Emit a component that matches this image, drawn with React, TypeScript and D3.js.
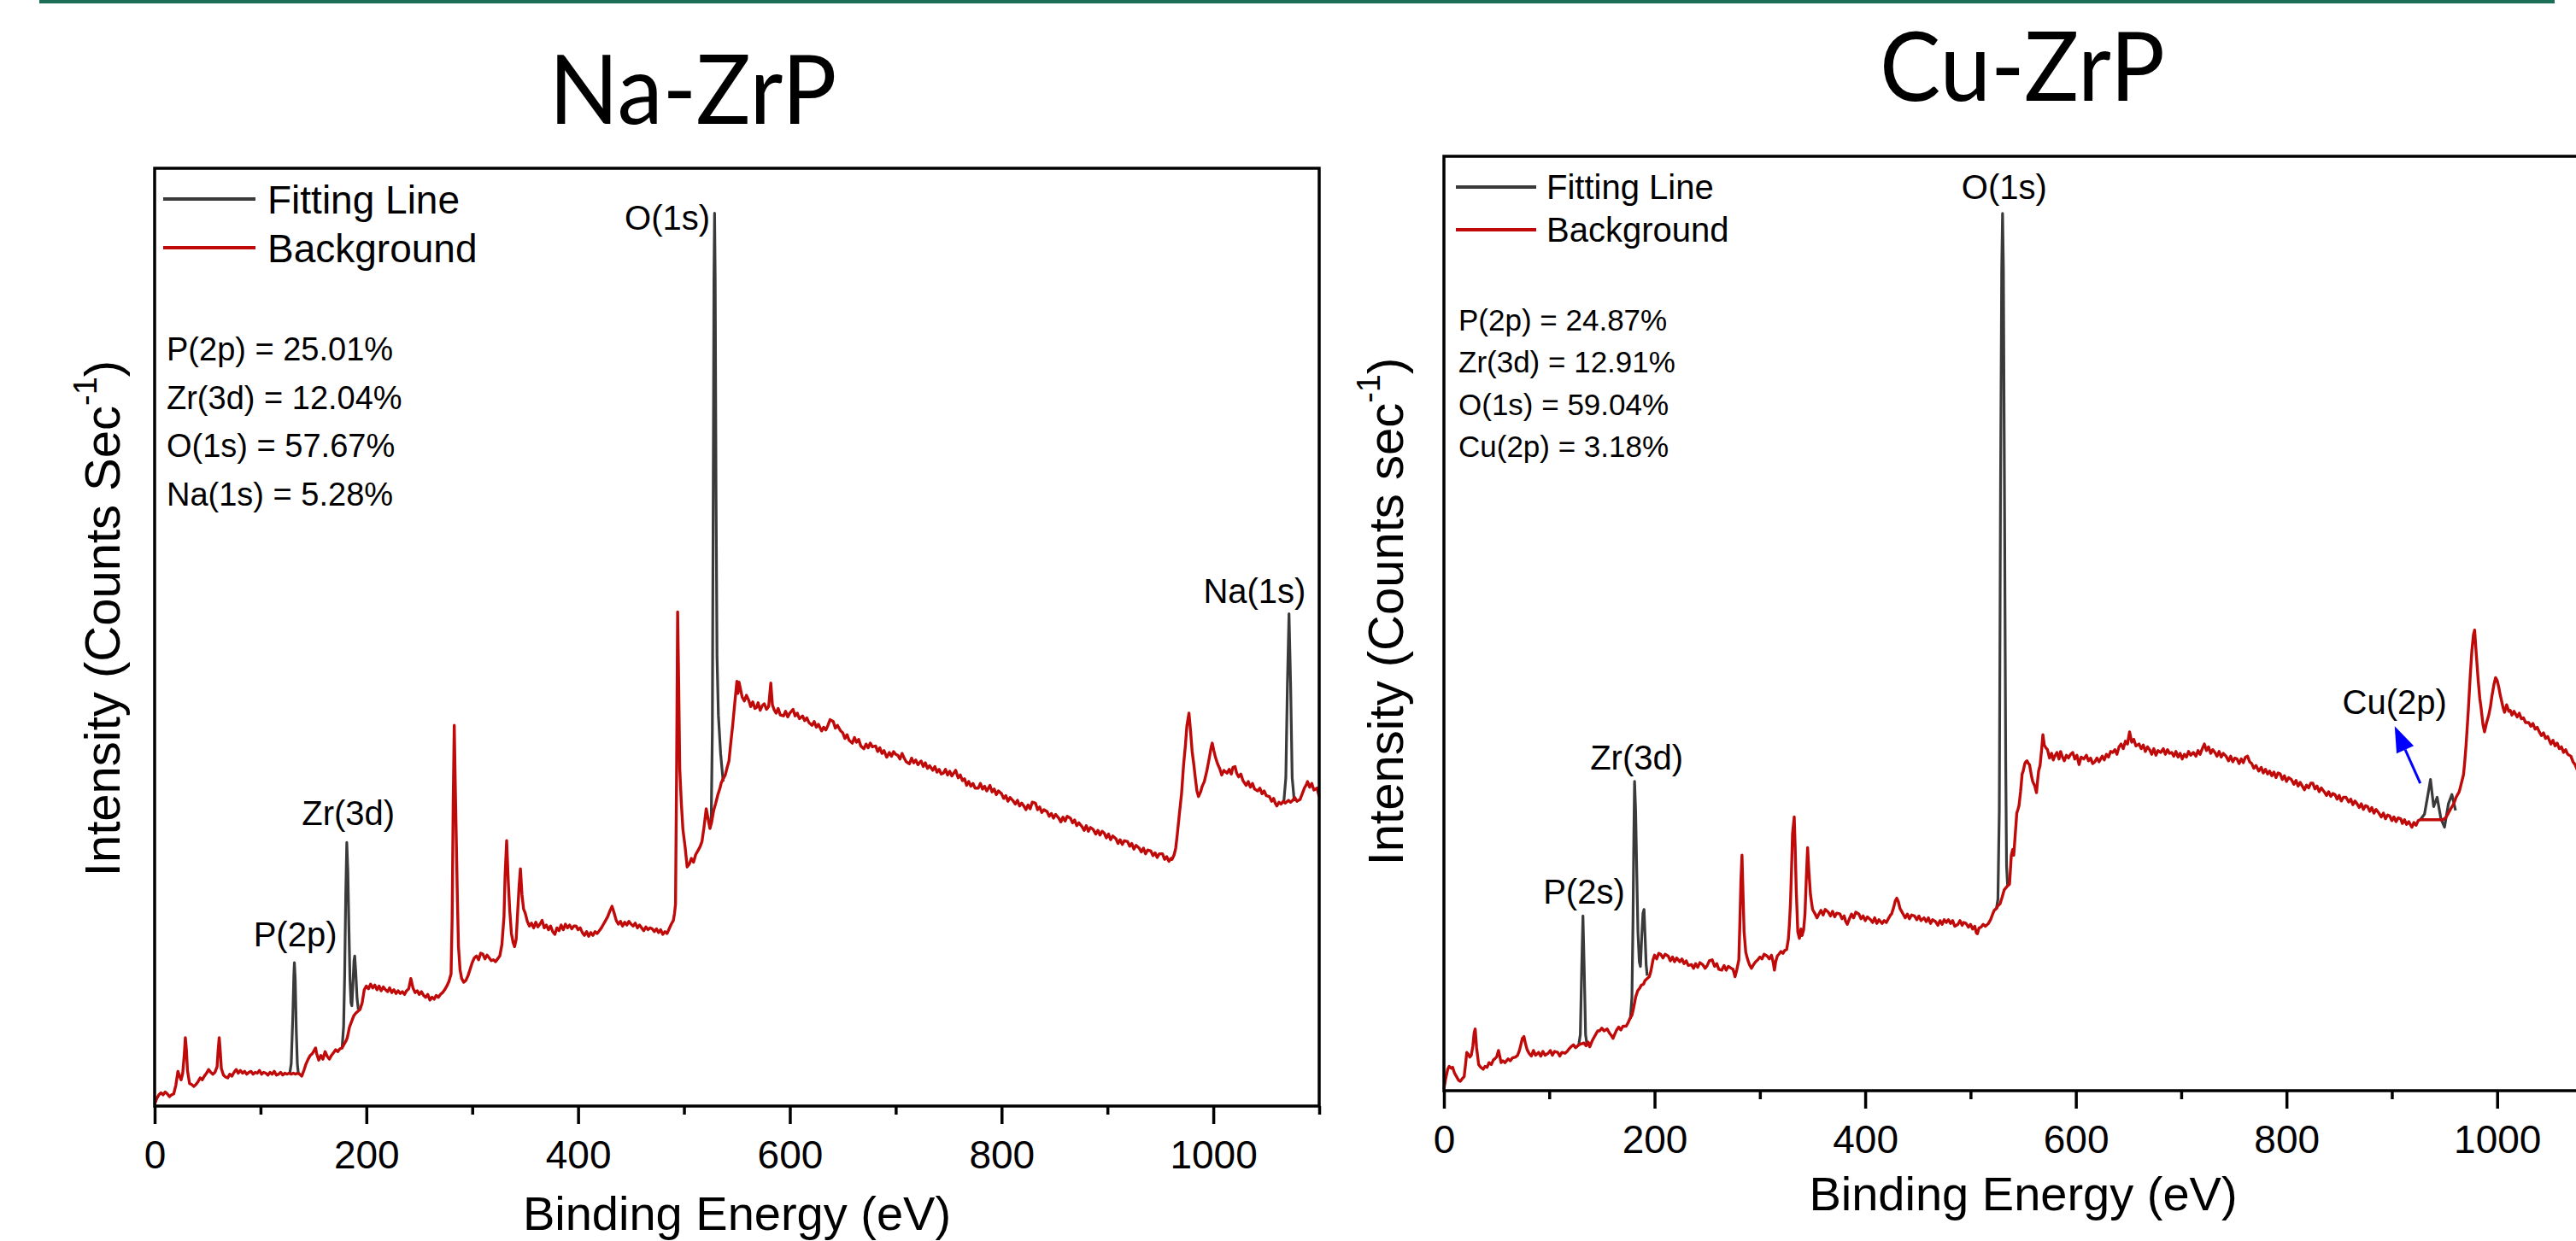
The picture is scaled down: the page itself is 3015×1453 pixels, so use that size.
import React, { useEffect, useRef } from 'react';
import * as d3 from 'd3';

type Pt = [number, number];

// x ticks (eV)
const xMajorTicks = [0, 200, 400, 600, 800, 1000];
const xMinorTicks = [100, 300, 500, 700, 900, 1100];

// ---- Na-ZrP survey: background (red), [eV, intensity %] ----
const naBackground: Pt[] = [
  [0,0.2],[2,0.8],[4,1.2],[6,1.4],[8,1.2],[10,1.5],[12,1.3],[14,1.0],[16,1.2],[18,1.3],[20,2.2],[22,3.7],[23.5,3.2],[25,2.8],[26.5,3.5],[28,5.5],[29,7.3],[30,6.0],[31,3.8],[33,2.4],[35,2.3],[37,2.1],[39,2.3],[41,2.6],[43,3.0],[45,2.8],[47,3.2],[49,3.5],[51,3.9],[53,3.6],[55,3.4],[57,3.6],[59,4.2],[60,6.0],[61,7.3],[62,5.8],[63,4.0],[65,3.3],[67,3.1],[69,3.0],[71,3.4],[73,3.2],[75,3.6],[77,3.9],[79,3.5],[81,3.8],[83,3.5],[85,3.7],[87,3.4],[89,3.6],[91,3.7],[93,3.4],[95,3.6],[97,3.5],[99,3.8],[101,3.4],[103,3.6],[105,3.5],[107,3.3],[109,3.6],[111,3.4],[113,3.7],[115,3.3],[117,3.4],[119,3.6],[121,3.3],[123,3.5],[125,3.4],[127,3.5],[129,3.4],[131,3.5],[133,3.4],[135,3.5],[137,3.4],[139,3.2],[141,3.8],[143,4.5],[145,5.0],[147,5.4],[149,5.6],[151,6.0],[152,6.2],[153,5.6],[155,4.9],[157,5.4],[159,5.0],[161,5.8],[163,5.3],[165,5.0],[167,5.4],[169,5.7],[171,6.0],[173,5.8],[175,6.1],[177,6.2],[179,6.6],[181,7.0],[182,7.3],[184,8.4],[186,9.0],[188,9.6],[190,9.9],[192,10.1],[194,10.3],[196,11.0],[198,12.4],[200,12.8],[202,12.5],[204,13.0],[206,12.6],[208,12.9],[210,12.4],[212,12.8],[214,12.3],[216,12.7],[218,12.4],[220,12.2],[222,12.6],[224,12.1],[226,12.4],[228,12.0],[230,12.3],[232,12.0],[234,12.2],[236,11.9],[238,12.3],[240,12.5],[242,13.6],[244,12.6],[246,12.1],[248,12.3],[250,11.9],[252,12.2],[254,11.8],[256,11.6],[258,11.9],[260,11.3],[262,11.6],[264,11.4],[266,11.8],[268,11.6],[270,11.9],[272,12.1],[274,12.4],[276,12.8],[278,13.3],[280,14.1],[281,20],[282,32],[283,40.6],[284,34],[285,28],[286,22],[287,17],[288.5,14.5],[290,13.6],[292,13.2],[294,13.4],[296,13.9],[298,14.6],[300,15.3],[302,15.8],[304,16.0],[306,15.6],[308,16.3],[310,16.2],[312,15.7],[314,16.1],[316,15.8],[318,15.5],[320,15.6],[322,15.4],[324,15.7],[326,16.0],[328,17.2],[330,20.2],[331,24.5],[332.5,28.3],[334,24],[335.4,20.9],[337,18.4],[338.5,17.5],[340,17.0],[341.5,17.8],[343,20.9],[344.3,23.5],[345.5,25.3],[347,22.5],[348.5,21.0],[350,20.6],[352,19.7],[354,19.2],[356,19.5],[358,19.0],[360,19.6],[362,19.1],[364,19.4],[366,19.8],[368,19.0],[370,19.3],[372,18.8],[374,19.2],[376,18.6],[378,18.3],[380,19.0],[382,18.7],[384,19.3],[386,18.8],[388,19.4],[390,19.0],[392,19.3],[394,18.9],[396,19.2],[398,19.2],[400,18.8],[402,19.0],[404,18.5],[406,18.2],[408,18.6],[410,18.1],[412,18.5],[414,18.2],[416,18.6],[418,18.4],[420,18.7],[422,19.0],[424,19.4],[426,19.8],[428,20.2],[430,20.8],[432,21.3],[434,20.6],[436,19.8],[438,19.4],[440,19.7],[442,19.2],[444,19.6],[446,19.3],[448,19.7],[450,19.4],[452,19.2],[454,19.5],[456,19.0],[458,19.3],[460,19.0],[462,18.7],[464,19.1],[466,18.8],[468,19.0],[470,18.9],[472,18.6],[474,18.9],[476,18.5],[478,18.8],[480,18.3],[482,18.6],[484,18.4],[486,18.9],[488,19.4],[490,19.8],[491,20.5],[492,21.5],[493,35],[494,52.7],[495,45],[496,36],[497.5,32.3],[499,29.5],[501,27.7],[503,25.5],[505,25.8],[507,26.4],[509,26.0],[511,26.8],[513,27.2],[515,27.6],[517,28.2],[519,29.8],[521,31.7],[523,30.5],[524.5,29.6],[526,30.2],[528,31.5],[530,32.3],[532,33.2],[534,33.9],[535,34.4],[537,34.9],[539,35.3],[541,36.2],[542.5,36.8],[544,38.5],[546,40.6],[548,43.0],[550,45.3],[551,44.0],[552,45.2],[553.5,44.4],[555,43.6],[557,43.2],[559,43.8],[561.4,43.2],[563,42.6],[565,43.1],[567,42.4],[568.6,42.5],[570,43.0],[572,42.2],[574,42.7],[575.8,42.9],[578,42.3],[580,42.6],[582,45.1],[583.5,42.8],[585,42.3],[587,41.9],[589,42.4],[591,41.7],[594,41.6],[596,42.1],[598,41.5],[600,41.9],[603,42.3],[605,41.6],[607,41.9],[609,41.3],[612,41.6],[614,41.1],[616,41.4],[618,40.9],[621,40.6],[623,41.0],[625,40.4],[627,40.7],[630,40.0],[632,40.4],[634,40.1],[636,40.6],[638,41.2],[641,41.0],[643,40.3],[645,40.6],[648,40.0],[650,39.8],[652,39.2],[654,39.6],[656,39.0],[659,38.7],[661,39.3],[663,38.8],[665,39.1],[667,38.4],[670,38.1],[672,38.6],[674,38.2],[676,38.7],[678,38.3],[681,38.4],[683,37.8],[685,38.2],[687,37.6],[689,37.9],[691.5,37.2],[694,37.7],[696,37.3],[698,37.8],[700,37.5],[702,37.4],[704,37.0],[706,37.6],[708,37.1],[710,36.7],[713,36.5],[715,37.1],[717,36.6],[719,36.9],[721,36.4],[724,36.8],[726,36.2],[728,36.6],[730,36.0],[732,36.3],[735,35.8],[737,36.2],[739,35.6],[741,35.9],[743,35.4],[745,35.5],[747,35.9],[749,35.3],[751,35.7],[753,35.2],[756.6,35.8],[759,35.0],[761,35.3],[763,34.7],[765,34.9],[767,34.2],[769,34.6],[771,34.1],[773,34.4],[775,33.9],[778,33.9],[780,34.4],[782,33.8],[784,34.1],[786,33.6],[789,34.2],[791,33.5],[793,33.8],[795,33.2],[797,33.6],[800,33.3],[802,32.8],[804,33.1],[806,32.5],[808,32.9],[810.5,32.6],[813,32.2],[815,32.6],[817,32.0],[819,32.3],[821,32.0],[823,31.6],[825,32.1],[827,31.7],[829,32.4],[832,32.3],[834,31.6],[836,31.9],[838,31.3],[840,31.6],[843,31.4],[845,30.9],[847,31.2],[849,30.7],[851,31.1],[854,30.7],[856,30.3],[858,30.8],[860,30.4],[862,30.9],[865,30.7],[867,30.2],[869,30.5],[871,29.9],[873,30.2],[876,29.8],[878,29.4],[880,29.9],[882,29.3],[884,29.7],[886.5,29.5],[889,29.0],[891,29.4],[893,28.9],[895,29.3],[897,29.1],[899,28.6],[901,29.0],[903,28.4],[905,28.8],[908,28.5],[910,28.0],[912,28.4],[914,27.9],[916,28.3],[919,28.2],[921,27.7],[923,28.0],[925,27.4],[927,27.8],[930,27.5],[932,27.1],[934,27.5],[936,26.9],[938,27.3],[941,27.2],[943,26.7],[945,27.0],[947,26.5],[949,26.9],[952,26.9],[954,26.3],[956,26.6],[958,26.1],[960,26.4],[961,26.3],[963,26.8],[964.5,27.5],[966,29],[968,31.2],[970,33.3],[972,36.5],[973.6,38.4],[975,40.5],[977,41.9],[978.5,40],[980,37.8],[981.5,36.5],[983,35.0],[984.5,33.6],[986,33.0],[988,33.5],[989.5,34.1],[991.5,34.6],[994,35.8],[996,37.0],[998,38.3],[999,38.7],[1000.5,37.9],[1002,37.2],[1004,36.5],[1006,36.0],[1008,35.3],[1010,35.8],[1013,35.5],[1015,35.9],[1017,35.4],[1018.5,36.1],[1020.5,36.2],[1022,35.5],[1024,35.1],[1026,35.4],[1028,34.7],[1031,34.2],[1033,34.6],[1035,34.0],[1037,34.4],[1039,33.8],[1042,33.6],[1044,33.9],[1046,33.3],[1048,33.6],[1050,33.1],[1053,33.0],[1055,32.5],[1057,32.8],[1058.5,32.3],[1060,32.0],[1062,32.4],[1064,32.2],[1066,32.5],[1068,32.3],[1071,32.6],[1073,32.4],[1075,32.6],[1077,32.9],[1079,32.5],[1082,32.7],[1084,33.3],[1086,33.9],[1088,34.3],[1089,34.6],[1091,34.0],[1093,34.4],[1095,33.7],[1098,33.9],[1100,33.0],
];

// Na-ZrP fitted peaks (black)
const naP2p: Pt[] = [[127.5,3.4],[129,4.5],[130.5,9.5],[131.5,14],[132,15.3],[132.8,13.5],[133.8,8],[134.8,4.5],[135.8,3.4]];
const naZr3d: Pt[] = [[177,6.1],[178.5,8.5],[179.5,14],[180.5,22.5],[181.5,28.1],[182.5,25],[183.5,19],[184.5,13.5],[185.5,11],[186.3,10.7],[187.3,13],[188.3,15.5],[189,16.0],[190,14.2],[191.2,11.5],[192.4,10.3]];
const naO1s: Pt[] = [[524.5,29.6],[525.8,31],[526.8,40],[527.6,65],[528.3,88],[528.9,95.2],[529.5,88],[530.3,65],[531.2,48],[532.5,41.7],[534.6,37.6],[537,34.6]];
const naNa1s: Pt[] = [[1066.5,32.3],[1068.5,35],[1070,45],[1071.5,52.5],[1073,45],[1074.5,35],[1076.5,32.5]];

const naPeakLabels = [
  { text: 'P(2p)', ev: 132.8, at: 17.0, anchor: 'middle' },
  { text: 'Zr(3d)', ev: 183, at: 30.0, anchor: 'middle' },
  { text: 'O(1s)', ev: 524.6, at: 93.4, anchor: 'end' },
  { text: 'Na(1s)', ev: 1039, at: 53.6, anchor: 'middle' },
];
const naComposition = ['P(2p) = 25.01%', 'Zr(3d) = 12.04%', 'O(1s) = 57.67%', 'Na(1s) = 5.28%'];

// ---- Cu-ZrP survey ----
const cuBackground: Pt[] = [
  [0,0.2],[1.5,1.2],[3.6,2.3],[5,2.6],[7,2.4],[8.3,2.5],[10,1.9],[12,1.5],[14,1.1],[15.6,1.0],[17.5,1.3],[19.2,1.5],[20.5,2.8],[21.7,4.1],[23,3.9],[24.6,3.6],[26,3.8],[27.5,4.8],[28.7,6.2],[29.7,6.6],[31,4.6],[33,2.8],[35,2.5],[37.3,2.3],[39,2.6],[41,2.5],[42.8,3.0],[45,2.8],[47,3.3],[48.2,3.4],[50,3.6],[51.8,4.3],[53,3.7],[54.3,3.0],[56,3.2],[58,3.0],[60.9,3.4],[63,3.2],[65,3.5],[68.1,3.6],[70,3.8],[71.7,4.3],[73,4.9],[74.5,5.6],[76,5.8],[77.5,5.0],[79,4.4],[80.8,4.0],[83,3.7],[85,4.3],[87,3.8],[89.9,4.1],[92,3.7],[94,4.2],[96,3.8],[98.9,4.0],[101,4.3],[103,3.8],[105,4.2],[108,4.1],[110,3.7],[112,4.1],[115,4.0],[117,4.2],[119,4.5],[120.6,4.7],[123,4.9],[125,4.6],[128,4.9],[130,5.0],[133,5.1],[135,4.8],[137,5.2],[138.5,4.7],[140.6,5.3],[142,5.6],[144,6.0],[146,6.4],[147.8,6.4],[150,6.7],[152,6.4],[155,6.6],[157,6.2],[159,5.9],[160.5,5.6],[162,6.0],[164,6.5],[166,6.8],[168,6.5],[170,6.9],[173,6.9],[175,7.3],[176.5,7.7],[178.6,8.1],[180,8.8],[182,10.0],[184,10.7],[186,11.0],[187.5,11.3],[189.5,11.4],[191,11.8],[193,12.0],[195,12.2],[196.5,12.8],[198.5,14.0],[200,14.5],[202,14.1],[204,14.7],[205.8,14.6],[208,14.2],[210,14.6],[213,14.4],[215,13.9],[217,14.3],[219,13.8],[221,14.2],[224,13.8],[226,14.1],[228,13.6],[230,13.9],[232,13.4],[235,13.5],[237,13.1],[239,13.6],[241,13.2],[243,13.7],[245.6,13.5],[248,13.1],[250,13.4],[252,13.9],[254.7,14.0],[257,13.3],[259,13.6],[261,13.0],[263.8,12.9],[266,13.4],[268,12.9],[270,13.3],[272.8,13.1],[274.5,13.0],[276.4,12.2],[278,12.9],[280,14.0],[281,18],[282,22.5],[283,25.2],[284,21],[285,17],[286.6,14.8],[288.5,14.0],[290,13.5],[292,13.1],[294,13.5],[296,13.8],[298,14.0],[300,14.3],[302,14.1],[304,14.6],[307,14.4],[309,14.1],[311,14.5],[312.5,13.8],[313.8,12.9],[315,13.8],[316.5,14.4],[318,14.6],[320,14.9],[322,14.7],[323.5,15.0],[325.4,15.1],[327,16.2],[328,17.8],[329,20.0],[330,23.5],[331,27.5],[332.6,29.3],[333.5,26],[334.5,21.5],[336,17.0],[337.5,16.3],[339,17.3],[340,16.6],[341.5,17.2],[342.8,18.9],[344,22.5],[345.3,26.0],[346.5,23.5],[348,21],[350,19.4],[352,19.0],[354.3,18.5],[356,18.9],[358,19.3],[360,18.8],[362,19.4],[365,19.1],[367,18.7],[369,19.2],[371,18.6],[373,19.0],[376,18.9],[378,18.4],[380,18.7],[381.5,18.1],[383,17.8],[385,18.4],[387,18.9],[389,18.5],[391,19.1],[394,18.9],[396,18.4],[398,18.7],[400,18.2],[402,18.6],[405,18.3],[407,18.0],[409,18.5],[411,17.9],[413,18.3],[416,17.9],[418,18.2],[420,18.0],[422,18.4],[424,18.8],[425,18.9],[427,19.6],[428.5,20.3],[430,20.6],[431.5,20.2],[433,19.5],[434.5,19.2],[436,18.9],[438,18.5],[440,18.9],[442,18.4],[444,18.8],[446.7,18.7],[449,18.3],[451,18.7],[453,18.2],[455.8,18.5],[458,18.1],[460,18.5],[462,17.9],[464,18.3],[466.7,18.1],[469,17.7],[471,18.2],[473,17.8],[475,18.3],[477,18.0],[479,18.3],[481,17.9],[483,18.2],[485,17.6],[488,17.8],[490,18.2],[492,17.7],[493.5,18.0],[495.7,17.9],[498,17.5],[500,17.8],[502,17.3],[504,17.6],[505.5,16.9],[506.5,16.8],[508,17.4],[510,17.5],[512,17.8],[514,17.6],[517,17.9],[519,18.3],[521,18.9],[522.5,19.3],[524.6,19.5],[526,19.8],[528,20.0],[530,20.7],[532,21.5],[535,21.9],[537,22.1],[538.7,25.2],[540,25.8],[541,25.2],[542.5,27.5],[543.9,29.7],[545,30.1],[546,30.5],[547.5,32.0],[549,33.9],[550,34.2],[551.5,35.0],[552.5,35.2],[553.6,35.3],[555,35.0],[556,34.9],[558,33.6],[559,33.1],[561,32.6],[562.6,31.9],[563.5,33.0],[564.6,34.2],[566,34.8],[567.5,36.5],[568.7,38.1],[570,37.0],[571.5,36.7],[573,36.5],[575,35.6],[577,36.1],[578.5,35.4],[580,35.8],[582,36.2],[584,35.5],[585.5,36.3],[587,35.8],[589,35.3],[591,35.9],[593,35.6],[595,36.0],[597,36.2],[599,35.5],[601,35.9],[603,34.9],[605,35.7],[607.6,35.5],[610,35.9],[612,35.3],[614,35.6],[616,35.0],[618,35.2],[620,35.6],[622,35.2],[625,35.8],[627,35.4],[629,36.0],[631,35.7],[633,36.3],[635,36.2],[637,36.5],[639,36.0],[641,36.8],[642.9,37.1],[645,36.6],[647,37.4],[649,37.1],[651,38.4],[653,37.3],[655,37.6],[657,36.9],[660,37.1],[662,36.6],[664,37.0],[666,36.3],[668,36.8],[670,36.5],[672,36.0],[674,36.6],[676,35.9],[678,36.4],[680.6,36.2],[683,36.6],[685,36.0],[687,36.5],[689,36.1],[691,36.2],[693,35.8],[695,36.3],[697,35.7],[699,36.1],[701,35.5],[703,36.0],[705,35.7],[707,36.3],[709,35.9],[711.6,36.2],[714,35.8],[716,36.4],[718,36.0],[720,36.6],[722,37.1],[724,36.4],[726,36.8],[728,36.1],[730,36.5],[732,36.2],[734,35.8],[736,36.3],[738,35.7],[740,36.1],[742.6,35.8],[745,35.3],[747,35.8],[749,35.2],[751,35.6],[753,35.5],[755,35.0],[757,35.5],[759,35.1],[761,35.7],[763,35.8],[765,35.2],[767,35.0],[769,34.5],[771,34.8],[773.6,34.2],[776,34.6],[778,34.0],[780,34.4],[782,33.9],[784,34.2],[786,33.7],[788,34.1],[790,33.5],[792,34.0],[794,33.9],[796,33.3],[798,33.7],[800,33.1],[802,33.5],[804.6,33.3],[807,32.8],[809,33.2],[811,32.6],[813,33.0],[815,32.6],[817,32.2],[819,32.7],[821,32.4],[823,32.9],[825,32.9],[827,32.3],[829,32.6],[831,32.0],[833,32.4],[835.7,32.0],[838,31.6],[840,32.0],[842,31.5],[844,31.8],[846,31.7],[848,31.2],[850,31.6],[852,31.0],[854,31.4],[856.5,31.4],[859,30.9],[861,31.2],[863,30.6],[865,31.0],[867,30.7],[869,30.3],[871,30.7],[873,30.1],[875,30.5],[877,30.4],[879,29.9],[881,30.3],[883,29.7],[885,30.1],[887.7,29.7],[890,29.3],[892,29.7],[894,29.1],[896,29.5],[898,29.4],[900,28.9],[902,29.3],[904,28.8],[906,29.2],[908.4,29.1],[910,28.6],[912,29.0],[914,28.5],[916,28.8],[919,28.2],[921,28.7],[923,28.4],[925,28.9],[927,29.0],[930,29.0],[935,29.0],[940,29.0],[945,29.0],[948.5,29.0],[951,29.2],[953.7,29.7],[956,30.2],[958.8,30.7],[961,31.4],[964,32.0],[966,32.9],[968,33.8],[969,34.9],[970.5,37.0],[972.6,40.7],[974.5,44.5],[976,47.1],[977.5,48.8],[978.6,49.3],[980,47.0],[982,43.9],[983.5,42.0],[984.7,41.0],[986.5,39.2],[988,38.4],[990,39.4],[992,40.2],[993.5,41.0],[995,42.2],[997,43.5],[998.5,44.2],[1000,43.9],[1001.5,43.2],[1003,42.3],[1005.6,41.0],[1007,40.5],[1009,41.3],[1011,40.6],[1012.5,40.7],[1014,40.2],[1016,40.6],[1019,40.0],[1021,40.4],[1023,39.8],[1025,39.9],[1027,39.4],[1030,39.4],[1032,39.0],[1034,39.3],[1036,38.7],[1038,38.9],[1040,38.4],[1042,38.0],[1044,38.3],[1046,37.7],[1048,37.9],[1051,37.1],[1053,37.5],[1055,36.9],[1057,37.2],[1059,36.6],[1061,36.8],[1063,36.2],[1065,36.5],[1067,36.0],[1070,35.8],[1072,35.2],[1074,34.9],[1075,34.6],[1077,34.1],[1078,34.2],[1080,33.8],[1082,34.0],[1085,33.6],[1088,33.9],[1091,33.4],[1094,33.7],[1097,33.2],[1100,33.5],
];

const cuP2s: Pt[] = [[128,4.9],[129.5,6],[130.8,13],[132,18.7],[133.2,13],[134.5,6],[135.8,4.9]];
const cuZr3d: Pt[] = [[177,7.7],[178.5,10],[179.5,18],[180.3,27],[181,33.1],[182,30],[183,24],[184.2,17],[185.5,13.8],[186.6,13.3],[187.8,16.5],[189,19.0],[190,19.4],[191,16.5],[192,13.5],[193,12.3]];
const cuO1s: Pt[] = [[524.6,19.5],[526,20.5],[527.3,30],[528.5,65],[529.6,88],[530.4,93.9],[531.2,88],[532.3,62],[533.4,35],[534.2,24],[535.2,21.9]];
const cuCu2p: Pt[] = [[927,29.0],[931,29.6],[934,31.5],[936.7,33.3],[939.7,30.4],[943,31.4],[946.6,29.1],[950,28.2],[953.7,30.7],[957,31.7],[960.5,30.0]];

const cuPeakLabels = [
  { text: 'P(2s)', ev: 133, at: 20.0, anchor: 'middle' },
  { text: 'Zr(3d)', ev: 183, at: 34.4, anchor: 'middle' },
  { text: 'O(1s)', ev: 532, at: 95.4, anchor: 'middle' },
  { text: 'Cu(2p)', ev: 902.6, at: 40.3, anchor: 'middle' },
];
const cuComposition = ['P(2p) = 24.87%', 'Zr(3d) = 12.91%', 'O(1s) = 59.04%', 'Cu(2p) = 3.18%'];
// arrow from tail to head, [eV, intensity]
const cuArrow: Pt[] = [[927, 32.9], [902.7, 39.0]];

const FONT = "'Liberation Sans', Arial, sans-serif";
const TITLE_FONT = "Lato, 'Open Sans', sans-serif";
const RED = '#c00a0a';
const BLACK_LINE = '#3a3a3a';

const panels = [
  {
    title: 'Na-ZrP', titleX: 811, titleY: 145, titleW: 337,
    left: 181, right: 1544, top: 197, bottom: 1295,
    background: naBackground, fits: [naP2p, naZr3d, naO1s, naNa1s],
    peakLabels: naPeakLabels, composition: naComposition,
    yLabel: 'Intensity (Counts Sec', yLabelX: 140, yLabelY: 724,
    xLabelY: 1440,
    legend: { x1: 191, x2: 299, tx: 313, y0: 233, dy: 57, size: 46 },
    stats: { x: 195, y0: 422, dy: 56.7, size: 38 },
    arrow: null as Pt[] | null,
  },
  {
    title: 'Cu-ZrP', titleX: 2367, titleY: 118, titleW: 334,
    left: 1690, right: 3046, top: 183, bottom: 1277,
    background: cuBackground, fits: [cuP2s, cuZr3d, cuO1s, cuCu2p],
    peakLabels: cuPeakLabels, composition: cuComposition,
    yLabel: 'Intensity (Counts sec', yLabelX: 1642, yLabelY: 716,
    xLabelY: 1417,
    legend: { x1: 1704, x2: 1798, tx: 1810, y0: 219, dy: 50, size: 40 },
    stats: { x: 1707, y0: 387, dy: 49.4, size: 35 },
    arrow: cuArrow,
  },
];

function drawPanel(svg: any, p: any) {
  const x = d3.scaleLinear().domain([0, 1100]).range([p.left, p.right]);
  const y = d3.scaleLinear().domain([0, 100]).range([p.bottom, p.top]);
  const g = svg.append('g');

  // title
  g.append('text')
    .attr('x', p.titleX).attr('y', p.titleY)
    .attr('text-anchor', 'middle')
    .attr('font-family', TITLE_FONT)
    .attr('font-size', 112)
    .attr('textLength', p.titleW)
    .attr('lengthAdjust', 'spacingAndGlyphs')
    .text(p.title);

  const line = d3.line<Pt>().x((d) => x(d[0])).y((d) => y(d[1]));

  // fitted peaks, then background on top
  g.selectAll('path.fit')
    .data(p.fits)
    .join('path')
    .attr('class', 'fit')
    .attr('d', (d: Pt[]) => line(d))
    .attr('fill', 'none')
    .attr('stroke', BLACK_LINE)
    .attr('stroke-width', 3.2)
    .attr('stroke-linejoin', 'round');

  g.append('path')
    .datum(p.background)
    .attr('d', line)
    .attr('fill', 'none')
    .attr('stroke', RED)
    .attr('stroke-width', 3.4)
    .attr('stroke-linejoin', 'round');

  // x axis, major + minor ticks
  const major = g.append('g')
    .attr('transform', `translate(0,${p.bottom})`)
    .call(d3.axisBottom(x).tickValues(xMajorTicks).tickSize(21).tickPadding(19).tickFormat(d3.format('d')));
  major.select('.domain').remove();
  major.selectAll('line').attr('stroke', '#000').attr('stroke-width', 3.5);
  major.selectAll('text')
    .attr('font-family', FONT).attr('font-size', 46).attr('fill', '#000');

  const minor = g.append('g')
    .attr('transform', `translate(0,${p.bottom})`)
    .call(d3.axisBottom(x).tickValues(xMinorTicks).tickSize(10).tickFormat(() => ''));
  minor.select('.domain').remove();
  minor.selectAll('line').attr('stroke', '#000').attr('stroke-width', 3.5);

  // frame
  g.append('rect')
    .attr('x', p.left).attr('y', p.top)
    .attr('width', p.right - p.left).attr('height', p.bottom - p.top)
    .attr('fill', 'none').attr('stroke', '#000').attr('stroke-width', 3.5);

  // axis titles
  g.append('text')
    .attr('x', (p.left + p.right) / 2).attr('y', p.xLabelY)
    .attr('text-anchor', 'middle')
    .attr('font-family', FONT).attr('font-size', 56)
    .text('Binding Energy (eV)');

  const yl = g.append('text')
    .attr('transform', `translate(${p.yLabelX},${p.yLabelY}) rotate(-90)`)
    .attr('text-anchor', 'middle')
    .attr('font-family', FONT).attr('font-size', 58);
  yl.append('tspan').text(p.yLabel);
  yl.append('tspan').attr('font-size', 38).attr('dy', -27).text('-1');
  yl.append('tspan').attr('dy', 27).text(')');

  // peak labels
  g.selectAll('text.peak')
    .data(p.peakLabels)
    .join('text')
    .attr('class', 'peak')
    .attr('x', (d: any) => x(d.ev)).attr('y', (d: any) => y(d.at))
    .attr('text-anchor', (d: any) => d.anchor)
    .attr('font-family', FONT).attr('font-size', 40)
    .text((d: any) => d.text);

  // legend
  const lg = p.legend;
  [['Fitting Line', BLACK_LINE], ['Background', RED]].forEach(([label, color], i) => {
    const ly = lg.y0 + i * lg.dy;
    g.append('line')
      .attr('x1', lg.x1).attr('x2', lg.x2).attr('y1', ly).attr('y2', ly)
      .attr('stroke', color).attr('stroke-width', 4);
    g.append('text')
      .attr('x', lg.tx).attr('y', ly + lg.size * 0.36)
      .attr('font-family', FONT).attr('font-size', lg.size)
      .text(label);
  });

  // composition text
  g.selectAll('text.comp')
    .data(p.composition)
    .join('text')
    .attr('class', 'comp')
    .attr('x', p.stats.x)
    .attr('y', (_d: string, i: number) => p.stats.y0 + i * p.stats.dy)
    .attr('font-family', FONT).attr('font-size', p.stats.size)
    .text((d: string) => d);

  // annotation arrow
  if (p.arrow) {
    const [tail, head] = p.arrow;
    const x0 = x(tail[0]), y0 = y(tail[1]), x1 = x(head[0]), y1 = y(head[1]);
    const ang = Math.atan2(y1 - y0, x1 - x0);
    const len = 30, half = 11;
    const bx = x1 - len * Math.cos(ang), by = y1 - len * Math.sin(ang);
    g.append('line')
      .attr('x1', x0).attr('y1', y0).attr('x2', bx).attr('y2', by)
      .attr('stroke', '#0000ff').attr('stroke-width', 3);
    g.append('polygon')
      .attr('points', [
        [x1, y1],
        [bx + half * Math.sin(ang), by - half * Math.cos(ang)],
        [bx - half * Math.sin(ang), by + half * Math.cos(ang)],
      ].map((q) => q.join(',')).join(' '))
      .attr('fill', '#0000ff');
  }
}

export default function App() {
  const ref = useRef<SVGSVGElement>(null);

  useEffect(() => {
    const svg = d3.select(ref.current);
    svg.selectAll('*').remove();

    // green rule across the top of the slide
    svg.append('rect')
      .attr('x', 46).attr('y', 0).attr('width', 2944).attr('height', 4)
      .attr('fill', '#1d6e56');

    panels.forEach((p) => drawPanel(svg, p));
  }, []);

  return (
    <svg
      ref={ref}
      width={3015}
      height={1453}
      style={{ position: 'absolute', left: 0, top: 0, background: '#fff' }}
    />
  );
}
